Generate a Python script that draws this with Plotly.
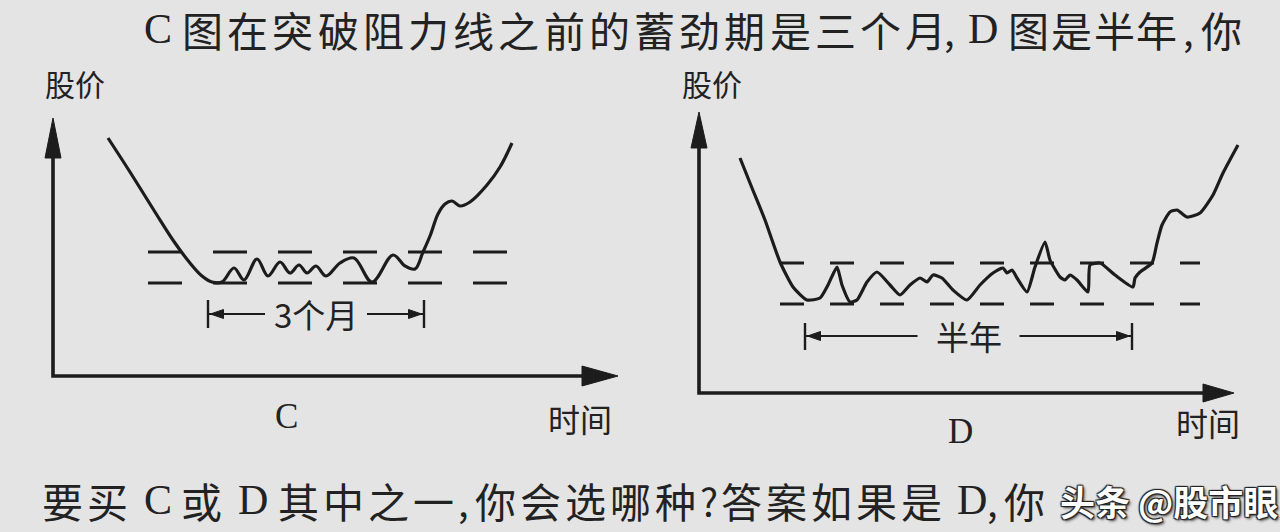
import plotly.graph_objects as go

# ---------------- data ----------------
# Chart C : time (arbitrary units) vs price (arbitrary units)
c_time = [11, 15.4, 20.4, 24.4, 27.4, 29.8, 31.8, 33.8, 36.2, 38.2, 40.8, 43, 45.4, 47.4,
          49.2, 50.8, 52.6, 54.6, 57.4, 60.2, 63.8, 68, 70.4, 72.4, 74, 75.4, 77, 78.4,
          79.8, 81.4, 83.4, 86.8, 89.4, 91.8]
c_price = [119, 102, 82, 66.5, 56.5, 50, 47, 47, 54, 48, 58.5, 50, 57, 51.5,
           55.5, 51.5, 55, 50, 56.5, 59, 47, 60.5, 55, 53.5, 62, 70, 81, 86,
           87.5, 85, 87, 95.5, 104.5, 116.5]
c_resistance = 62.0
c_support = 46.5
c_period = [31.0, 74.2]          # 3个月 consolidation
c_period_label = "3个月"

# Chart D
d_time = [8.2, 10.6, 13.2, 16.2, 18.8, 21.6, 24.2, 25.8, 27.6, 28.6, 30.2, 31.6, 33.6, 35.6,
          38.2, 40.2, 42.2, 44.2, 45.6, 46.8, 48.6, 50.8, 53.6, 56.2, 58.8, 60.8, 61.6, 62.6,
          63.6, 65.6, 67.2, 69.2, 70.2, 72.2, 73.2, 74.2, 75.6, 77.8, 78.2, 80.2, 83.2, 86.8,
          87.2, 88.2, 90.6, 91.6, 92.6, 94.2, 95.6, 97.6, 100.2, 102.8, 104.8, 107.8]
d_price = [117.5, 102.5, 86.5, 65.5, 53, 46.5, 47.5, 54, 63, 54, 45.5, 46.5, 55.5, 60.5,
           54, 49, 54, 57.5, 55.5, 59, 57.5, 51.5, 46.5, 54, 60, 62.5, 60, 61.5,
           57.5, 50.5, 63, 75.5, 66.5, 58, 56.5, 59, 56.5, 50.5, 64, 65, 59, 53,
           57.5, 60.5, 65, 75, 84, 90.5, 91.5, 88, 90, 99, 110, 124]
d_resistance = 65.0
d_support = 44.5
d_period = [21.2, 86.6]          # 半年 consolidation
d_period_label = "半年"

y_label = "股价"
x_label = "时间"

# ---------------- layout / style ----------------
W, H = 1280, 532
INK = "#1c1c1c"
TXT = "#222222"
BG = "#e4e4e4"
SANS = "Noto Sans CJK SC"
SERIF = "Liberation Serif"
UX, UY = 5.0, 2.0                 # pixels per unit

frames = {
    "C": dict(origin=(53, 376), xa="x", ya="y", x_end=113.0, y_end=129.0,
              level_span=(19.0, 91.0), dash="34px,31px", smooth=1.0,
              vhead=(40, 8), hhead=(36, 10), period_y=31.0, tick=(24.0, 38.0)),
    "D": dict(origin=(699, 393), xa="x2", ya="y2", x_end=107.0, y_end=140.5,
              level_span=(16.2, 100.2), dash="24px,26px", smooth=0.55,
              vhead=(36, 8), hhead=(31, 9), period_y=28.5, tick=(21.5, 35.0)),
}
series = {
    "C": (c_time, c_price, c_resistance, c_support, c_period, c_period_label),
    "D": (d_time, d_price, d_resistance, d_support, d_period, d_period_label),
}

fig = go.Figure()


def add_line(xs, ys, fr, width=3.0, dash=None, shape="linear", smooth=None):
    line = dict(color=INK, width=width, shape=shape)
    if dash:
        line["dash"] = dash
    if smooth is not None:
        line["smoothing"] = smooth
    fig.add_trace(go.Scatter(x=xs, y=ys, mode="lines", line=line,
                             xaxis=fr["xa"], yaxis=fr["ya"], hoverinfo="skip"))


def add_tri(xs, ys, fr):
    fig.add_trace(go.Scatter(x=xs, y=ys, mode="lines", fill="toself", fillcolor=INK,
                             line=dict(color=INK, width=1), xaxis=fr["xa"], yaxis=fr["ya"],
                             hoverinfo="skip"))


for key, fr in frames.items():
    t, p, res, sup, period, plabel = series[key]
    # axes with arrow heads
    vl, vw = fr["vhead"]
    hl, hw = fr["hhead"]
    vbase = fr["y_end"] - vl / UY
    hbase = fr["x_end"] - hl / UX
    add_line([0, 0, hbase + 1], [vbase + 1, 0, 0], fr, width=3.6)
    add_tri([-vw / UX, vw / UX, 0, -vw / UX], [vbase, vbase, fr["y_end"], vbase], fr)
    add_tri([hbase, hbase, fr["x_end"], hbase], [-hw / UY, hw / UY, 0, -hw / UY], fr)
    # resistance / support dashed levels
    a, b = fr["level_span"]
    add_line([a, b], [res, res], fr, width=3.0, dash=fr["dash"])
    add_line([a, b], [sup, sup], fr, width=3.0, dash=fr["dash"])
    # price curve
    add_line(t, p, fr, width=3.2, shape="spline", smooth=fr["smooth"])
    # period bracket
    py = fr["period_y"]
    lo, hi = fr["tick"]
    mid = (period[0] + period[1]) / 2
    gap = 51 / UX
    add_line([period[0], period[0]], [lo, hi], fr, width=2.4)
    add_line([period[1], period[1]], [lo, hi], fr, width=2.4)
    add_line([period[0], mid - gap], [py, py], fr, width=2.2)
    add_line([mid + gap, period[1]], [py, py], fr, width=2.2)
    al, aw = 13 / UX, 4.5 / UY
    add_tri([period[0] + 0.5, period[0] + 0.5 + al, period[0] + 0.5 + al, period[0] + 0.5],
            [py, py + aw, py - aw, py], fr)
    add_tri([period[1] - 0.5, period[1] - 0.5 - al, period[1] - 0.5 - al, period[1] - 0.5],
            [py, py + aw, py - aw, py], fr)
    fig.add_annotation(text=plabel, x=mid, y=py, xref=fr["xa"], yref=fr["ya"],
                       showarrow=False, xanchor="center", yanchor="middle",
                       font=dict(family=SANS, size=33, color=TXT))


def px_ann(text, xpx, ypx, size, family=SANS, anchor="left", color=TXT, **font_extra):
    fig.add_annotation(text=text, x=xpx / W, y=1 - ypx / H, xref="paper", yref="paper",
                       xanchor=anchor, yanchor="middle", showarrow=False,
                       font=dict(family=family, size=size, color=color, **font_extra))


def spaced(text, x0, pitch, ypx, size):
    # book typesetting: CJK characters set on a fixed pitch
    for i, ch in enumerate(text):
        px_ann(ch, x0 + i * pitch, ypx, size)


# axis labels
px_ann(y_label, 75, 83, 30, anchor="center")
px_ann(y_label, 712, 83, 30, anchor="center")
px_ann(x_label, 580, 418, 32, anchor="center")
px_ann(x_label, 1208, 422, 32, anchor="center")
px_ann("C", 286, 416, 35, family=SERIF, anchor="center")
px_ann("D", 960, 431, 35, family=SERIF, anchor="center")

# body text, top line
top_y = 29
px_ann("C", 142, top_y, 42, family=SERIF)
spaced("图在突破阻力线之前的蓄劲期是三个月", 180, 45.2, top_y, 41)
px_ann(",", 942, top_y, 38)
px_ann("D", 966, top_y, 42, family=SERIF)
spaced("图是半年", 1006, 42.8, top_y, 41)
px_ann(",", 1181, top_y, 38)
px_ann("你", 1199, top_y, 41)

# body text, bottom line
bot_y = 500
spaced("要买", 40, 45, bot_y, 41)
px_ann("C", 142, bot_y, 42, family=SERIF)
px_ann("或", 179, bot_y, 41)
px_ann("D", 236, bot_y, 42, family=SERIF)
spaced("其中之一", 276, 45, bot_y, 41)
px_ann(",", 456, bot_y, 38)
spaced("你会选哪种", 473, 45, bot_y, 41)
px_ann("?", 698, bot_y, 38)
spaced("答案如果是", 719, 45, bot_y, 41)
px_ann("D", 955, bot_y, 42, family=SERIF)
px_ann(",", 985, bot_y, 38)
px_ann("你", 1002, bot_y, 41)

# watermark
px_ann("头条 @股市眼", 1058, bot_y, 35, color="#ffffff", weight="bold",
       shadow="1px 1px 1px #222, -1px -1px 1px #222, 1px -1px 1px #222, -1px 1px 1px #222, 2px 2px 3px #444")

# axes spanning the full canvas, one pixel frame per chart
for key, fr in frames.items():
    ox, oy = fr["origin"]
    xr = [(0 - ox) / UX, (W - ox) / UX]
    yr = [(oy - H) / UY, oy / UY]
    xname = "xaxis" if fr["xa"] == "x" else "xaxis2"
    yname = "yaxis" if fr["ya"] == "y" else "yaxis2"
    xcfg = dict(range=xr, visible=False, domain=[0, 1], fixedrange=True)
    ycfg = dict(range=yr, visible=False, domain=[0, 1], fixedrange=True)
    if key == "D":
        xcfg.update(overlaying="x", anchor="y2")
        ycfg.update(overlaying="y", anchor="x2")
    fig.update_layout({xname: xcfg, yname: ycfg})

fig.update_layout(width=W, height=H, autosize=False, margin=dict(l=0, r=0, t=0, b=0),
                  paper_bgcolor=BG, plot_bgcolor=BG, showlegend=False, hovermode=False)

fig.write_html("out.html", config={"displayModeBar": False},
               post_script="document.body.style.margin='0';document.body.style.overflow='hidden';")
